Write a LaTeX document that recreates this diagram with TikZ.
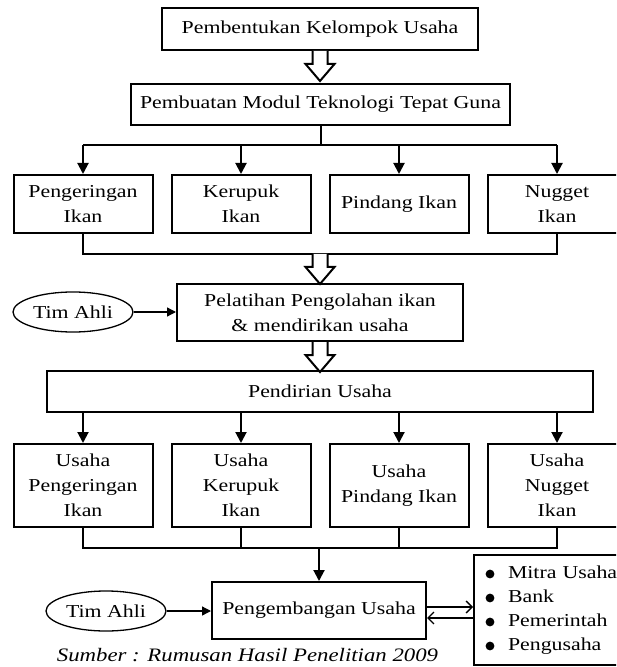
\documentclass[tikz,border=0pt]{standalone}
\usepackage{fontspec}
\setmainfont{Liberation Serif}[FakeStretch=1.2]
\usetikzlibrary{arrows.meta,shapes.geometric}
\newcommand{\dotitem}{\hspace*{11pt}}

\begin{document}
\begin{tikzpicture}[x=0.5pt,y=-0.5pt,line width=1pt,
    font=\fontsize{9.1}{12.5}\selectfont,
    box/.style={draw,align=center,inner sep=0pt},
    produk/.style={box,minimum width=69.5pt,minimum height=29pt},
    uprod/.style={box,minimum width=69.5pt,minimum height=41.5pt},
    ahli/.style={draw,ellipse,line width=0.65pt,minimum width=60pt,
      minimum height=20pt,inner sep=0pt},
    feed/.style={-{Triangle[length=5.5pt,width=5.5pt]}},
    ahliarrow/.style={line width=0.65pt,-{Triangle[length=4.5pt,width=4.5pt]}},
    timbal/.style={line width=0.65pt,-{Straight Barb[length=3pt,width=6pt]}},
    hollow/.pic={\draw[fill=white] (-7.5,0) -- (-7.5,13) -- (-14.5,13)
      -- (0,30) -- (14.5,13) -- (7.5,13) -- (7.5,0);}]
  \useasboundingbox (0,0) rectangle (616,667);
  \clip (0,0) rectangle (616,667);
  % top of the chart
  \node[box,minimum width=158pt,minimum height=21pt] (bentuk) at (320,29)
    {Pembentukan Kelompok Usaha};
  \node[box,minimum width=189.5pt,minimum height=20.5pt] (modul) at (320.5,104.5)
    {Pembuatan Modul Teknologi Tepat Guna};
  % products
  \node[produk] (kering) at (83,204) {Pengeringan\\Ikan};
  \node[produk] (kerupuk) at (241,204) {Kerupuk\\Ikan};
  \node[produk] (pindang) at (399,204) {Pindang Ikan};
  \node[produk] (nugget) at (557,204) {Nugget\\Ikan};
  % training
  \node[box,minimum width=143pt,minimum height=28.5pt] (latih) at (320,312.5)
    {Pelatihan Pengolahan ikan\\\& mendirikan usaha};
  \node[ahli] (ahli1) at (73,312) {Tim Ahli};
  \node[box,minimum width=273pt,minimum height=20.5pt] (diri) at (320,391.5)
    {Pendirian Usaha};
  % businesses
  \node[uprod] (ukering) at (83,485.5) {Usaha\\Pengeringan\\Ikan};
  \node[uprod] (ukerupuk) at (241,485.5) {Usaha\\Kerupuk\\Ikan};
  \node[uprod] (upindang) at (399,485.5) {Usaha\\Pindang Ikan};
  \node[uprod] (unugget) at (557,485.5) {Usaha\\Nugget\\Ikan};
  % development
  \node[box,minimum width=107pt,minimum height=28.5pt] (kembang) at (319,610.5)
    {Pengembangan Usaha};
  \node[ahli] (ahli2) at (106,611) {Tim Ahli};
  \node[box,anchor=west,align=left,text width=70pt,inner xsep=6pt,
    minimum height=55pt,font=\fontsize{9.1}{12}\selectfont] (mitra) at (473,610)
    {\dotitem Mitra Usaha\\ \dotitem Bank\\ \dotitem Pemerintah\\ \dotitem Pengusaha};
  % bullets
  \foreach \k in {0,...,3}
    \fill (mitra.west) ++(17,{-36+24*\k}) circle (2.2pt);
  \node[font=\fontsize{9.5}{11}\selectfont\itshape,anchor=base] (sumber) at (247.5,661)
    {Sumber : Rumusan Hasil Penelitian 2009};
  % hollow arrows
  \pic at (bentuk.south) {hollow};
  \draw (kering.south) -- ++(0,20) coordinate (g1) -| (nugget.south);
  \pic at (g1 -| latih.north) {hollow};
  \pic at (latih.south) {hollow};
  % branches to the products
  \draw (modul.south) -- ++(0,19) coordinate (cabang);
  \draw (kering.north |- cabang) -- (nugget.north |- cabang);
  \foreach \n in {kering,kerupuk,pindang,nugget}
    \draw[feed] (\n.north |- cabang) -- (\n.north);
  % branches to the businesses
  \foreach \n in {ukering,ukerupuk,upindang,unugget}
    \draw[feed] (\n.north |- diri.south) -- (\n.north);
  \draw (ukering.south) -- ++(0,20) coordinate (g2) -| (unugget.south);
  \foreach \n in {ukerupuk,upindang}
    \draw (\n.south) -- (\n.south |- g2);
  \draw[feed] (g2 -| kembang.north) -- (kembang.north);
  % experts and partners
  \draw[ahliarrow] (ahli1.east) -- (latih.west |- ahli1.east);
  \draw[ahliarrow] (ahli2.east) -- (kembang.west |- ahli2.east);
  \draw[timbal] (kembang.east |- 0,607) -- (mitra.west |- 0,607);
  \draw[timbal] (mitra.west |- 0,618) -- (kembang.east |- 0,618);
\end{tikzpicture}
\end{document}
